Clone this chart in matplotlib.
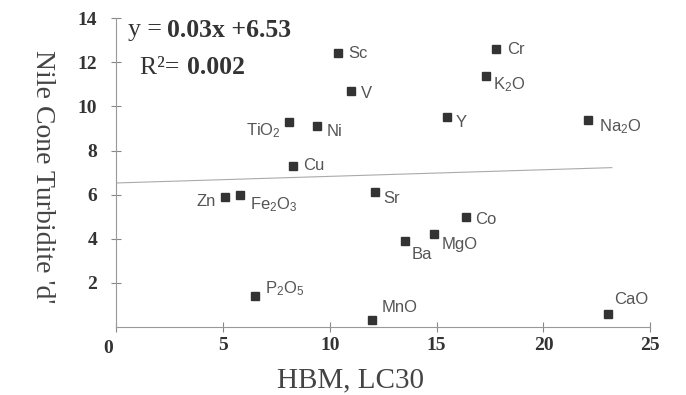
import matplotlib
matplotlib.use("Agg")
import matplotlib.pyplot as plt

plt.rcParams['mathtext.fontset'] = 'custom'
plt.rcParams['mathtext.rm'] = 'Liberation Sans'
plt.rcParams['mathtext.it'] = 'Liberation Sans:italic'
plt.rcParams['mathtext.bf'] = 'Liberation Sans:bold'

# element labels and their values
labels = ['Sc', 'V', 'Cr', r'K$_\mathrm{2}$O', 'Y', r'Na$_\mathrm{2}$O',
          r'TiO$_\mathrm{2}$', 'Ni', 'Cu', 'Zn', r'Fe$_\mathrm{2}$O$_\mathrm{3}$',
          r'P$_\mathrm{2}$O$_\mathrm{5}$', 'Sr', 'Co', 'Ba', 'MgO', 'MnO', 'CaO']
hbm = [10.4, 11.0, 17.8, 17.3, 15.5, 22.1,
       8.1, 9.4, 8.3, 5.1, 5.8,
       6.5, 12.1, 16.4, 13.5, 14.9, 12.0, 23.0]
turb = [12.4, 10.7, 12.6, 11.4, 9.5, 9.4,
        9.3, 9.1, 7.3, 5.9, 6.0,
        1.4, 6.1, 5.0, 3.9, 4.2, 0.3, 0.6]

slope = 0.03
intercept = 6.53
r2 = 0.002
fit_x = [0, 23.2]

# label offsets in pixels (dx, dy) and alignment
offsets = {
    'Sc': (10, 0, 'left'), 'V': (10, -3, 'left'), 'Cr': (11, 0, 'left'),
    r'K$_\mathrm{2}$O': (7, -9, 'left'), 'Y': (8, -5, 'left'),
    r'Na$_\mathrm{2}$O': (11, -7, 'left'), r'TiO$_\mathrm{2}$': (-8, -9, 'right'),
    'Ni': (10, -5, 'left'), 'Cu': (10, 0, 'left'), 'Zn': (-9, -5, 'right'),
    r'Fe$_\mathrm{2}$O$_\mathrm{3}$': (10, -10, 'left'),
    r'P$_\mathrm{2}$O$_\mathrm{5}$': (10, 8, 'left'), 'Sr': (9, -6, 'left'),
    'Co': (9, -3, 'left'), 'Ba': (7, -13, 'left'), 'MgO': (7, -10, 'left'),
    'MnO': (9, 13, 'left'), 'CaO': (7, 14, 'left'),
}

fig = plt.figure(figsize=(6.86, 3.95), dpi=100)
ax = fig.add_axes([0.169, 0.172, 0.779, 0.782])

ax.plot(fit_x, [slope * x + intercept for x in fit_x], color='#aaaaaa', lw=0.8)
ax.plot(hbm, turb, 's', color='#333333', ms=5.5, ls='none')

for lab, x, y in zip(labels, hbm, turb):
    dx, dy, ha = offsets[lab]
    ax.annotate(lab, (x, y), xytext=(dx, dy), textcoords='offset pixels',
                ha=ha, va='center', fontsize=12, color='#555555',
                family='Liberation Sans')

ax.set_xlim(0, 25)
ax.set_ylim(0, 14)
ax.set_xticks([0, 5, 10, 15, 20, 25])
ax.set_yticks([2, 4, 6, 8, 10, 12, 14])
for s in ['top', 'right']:
    ax.spines[s].set_visible(False)
for s in ['left', 'bottom']:
    ax.spines[s].set_color('#999999')
    ax.spines[s].set_linewidth(0.8)
ax.tick_params(direction='inout', length=7, width=0.8, color='#888888',
               labelsize=14, labelcolor='#333333')
ax.tick_params(axis='x', pad=4)
ax.tick_params(axis='y', pad=10)
for t in ax.get_xticklabels() + ax.get_yticklabels():
    t.set_family('Liberation Serif')
    t.set_fontweight('bold')
ax.text(-0.37, -0.6, '0', ha='center', va='top', fontsize=14,
        family='Liberation Serif', fontweight='bold', color='#333333')
ax.set_xticklabels(['', '5', '10', '15', '20', '25'])

fig.text(351 / 686, 1 - 380 / 395, 'HBM, LC30', family='Liberation Serif',
         fontsize=21, color='#444444', ha='center', va='center')
fig.text(42 / 686, 1 - 177 / 395, "Nile Cone Turbidite 'd'", family='Liberation Serif',
         fontsize=20, color='#444444', ha='center', va='center', rotation=270)

fig.text(0.187, 0.924, 'y = ', family='Liberation Serif', fontsize=18.5,
         color='#333333', va='center')
fig.text(0.243, 0.924, f'{slope:.2f}x +{intercept:.2f}', family='Liberation Serif',
         fontsize=18.5, fontweight='bold', color='#333333', va='center')
fig.text(0.204, 0.828, 'R²= ', family='Liberation Serif', fontsize=18.5,
         color='#333333', va='center')
fig.text(0.272, 0.828, f'{r2:.3f}', family='Liberation Serif',
         fontsize=18.5, fontweight='bold', color='#333333', va='center')

fig.savefig('out.png', dpi=100, facecolor='white')
